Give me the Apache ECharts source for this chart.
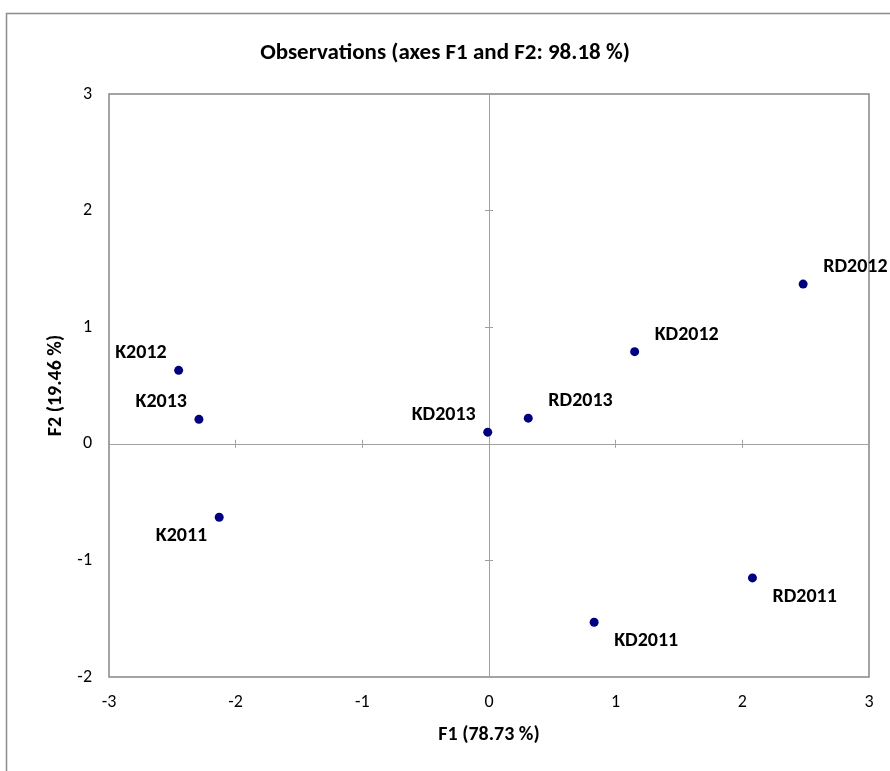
<!DOCTYPE html>
<html>
<head>
<meta charset="utf-8">
<script src="https://cdn.jsdelivr.net/npm/echarts@6/dist/echarts.min.js"></script>
<style>
html,body{margin:0;padding:0;background:#fff;}
#chart{width:890px;height:771px;}
</style>
</head>
<body>
<div id="chart"></div>
<script>
// ---- data ----
const observations = ['K2011','K2012','K2013','KD2011','KD2012','KD2013','RD2011','RD2012','RD2013'];
const f1Values = [-2.13, -2.45, -2.29, 0.83, 1.15, -0.01, 2.08, 2.48, 0.31];
const f2Values = [-0.63, 0.63, 0.21, -1.53, 0.79, 0.10, -1.15, 1.37, 0.22];
const xTicks = [-3, -2, -1, 0, 1, 2, 3];
const yTicks = [-2, -1, 0, 1, 2, 3];
const titleText = 'Observations (axes F1 and F2: 98.18 %)';
const xName = 'F1 (78.73 %)';
const yName = 'F2 (19.46 %)';

// label placement style (not data)
const placement = {
  'K2011':'ll','K2012':'ul','K2013':'ul','KD2013':'ul',
  'RD2013':'ur','KD2012':'ur','RD2012':'ur','RD2011':'lr','KD2011':'lr'
};
const FONT = 'Carlito, Lato, sans-serif';
const sym = 9;
function labelFor(name){
  const p = placement[name];
  const h = sym/2;
  const left = p[1] === 'l';
  const up = p[0] === 'u';
  return {
    show: true,
    position: [left ? h - 12 : h + 20, up ? h - 17 : h + 19],
    align: left ? 'right' : 'left',
    verticalAlign: 'middle',
    formatter: name,
    fontFamily: FONT, fontWeight: 'bold', fontSize: 20, color: '#000'
  };
}
const points = observations.map((n, i) => ({
  name: n, value: [f1Values[i], f2Values[i]], label: labelFor(n)
}));

const xMin = xTicks[0], xMax = xTicks[xTicks.length-1];
const yMin = yTicks[0], yMax = yTicks[yTicks.length-1];
const lineCol = '#a0a0a0';

function zeroX(inside){
  return {type:'value', min:xMin, max:xMax, interval:1, gridIndex:0,
    axisLine:{show:true, onZero:true, onZeroAxisIndex:0, lineStyle:{color:lineCol, width:1}},
    axisTick:{show:true, inside:inside, length:4, lineStyle:{color:lineCol, width:1}},
    axisLabel:{show:false}, splitLine:{show:false}};
}
function zeroY(inside){
  return {type:'value', min:yMin, max:yMax, interval:1, gridIndex:0,
    axisLine:{show:true, onZero:true, onZeroAxisIndex:0, lineStyle:{color:lineCol, width:1}},
    axisTick:{show:true, inside:inside, length:4, lineStyle:{color:lineCol, width:1}},
    axisLabel:{show:false}, splitLine:{show:false}};
}

const chart = echarts.init(document.getElementById('chart'), null, {renderer:'canvas'});
chart.setOption({
  animation: false,
  backgroundColor: '#fff',
  title: {
    text: titleText, left: 'center', top: 37,
    textStyle: {fontFamily: FONT, fontWeight: 'bold', fontSize: 23, color: '#000'}
  },
  graphic: [{
    type: 'rect', silent: true, z: -1,
    shape: {x: 6.5, y: 13.5, width: 900, height: 800},
    style: {fill: 'none', stroke: '#8c8c8c', lineWidth: 1.5}
  }],
  grid: {left: 109, right: 21, top: 94, bottom: 94, show: true,
    borderColor: '#878787', borderWidth: 1.5, backgroundColor: 'transparent'},
  xAxis: [
    {type:'value', min:xMin, max:xMax, interval:1, position:'bottom',
     axisLine:{show:false, onZero:false}, axisTick:{show:false}, splitLine:{show:false},
     axisLabel:{fontFamily:FONT, fontSize:18, color:'#000', margin:16},
     name: xName, nameLocation:'middle', nameGap:48,
     nameTextStyle:{fontFamily:FONT, fontWeight:'bold', fontSize:20, color:'#000'}},
    zeroX(true), zeroX(false)
  ],
  yAxis: [
    {type:'value', min:yMin, max:yMax, interval:1, position:'left',
     axisLine:{show:false, onZero:false}, axisTick:{show:false}, splitLine:{show:false},
     axisLabel:{fontFamily:FONT, fontSize:18, color:'#000', margin:17},
     name: yName, nameLocation:'middle', nameGap:43,
     nameTextStyle:{fontFamily:FONT, fontWeight:'bold', fontSize:20, color:'#000'}},
    zeroY(true), zeroY(false)
  ],
  series: [{
    type: 'scatter', xAxisIndex: 0, yAxisIndex: 0,
    symbol: 'circle', symbolSize: sym,
    itemStyle: {color: '#000080', opacity: 1},
    data: points, z: 5
  }]
});
</script>
</body>
</html>
